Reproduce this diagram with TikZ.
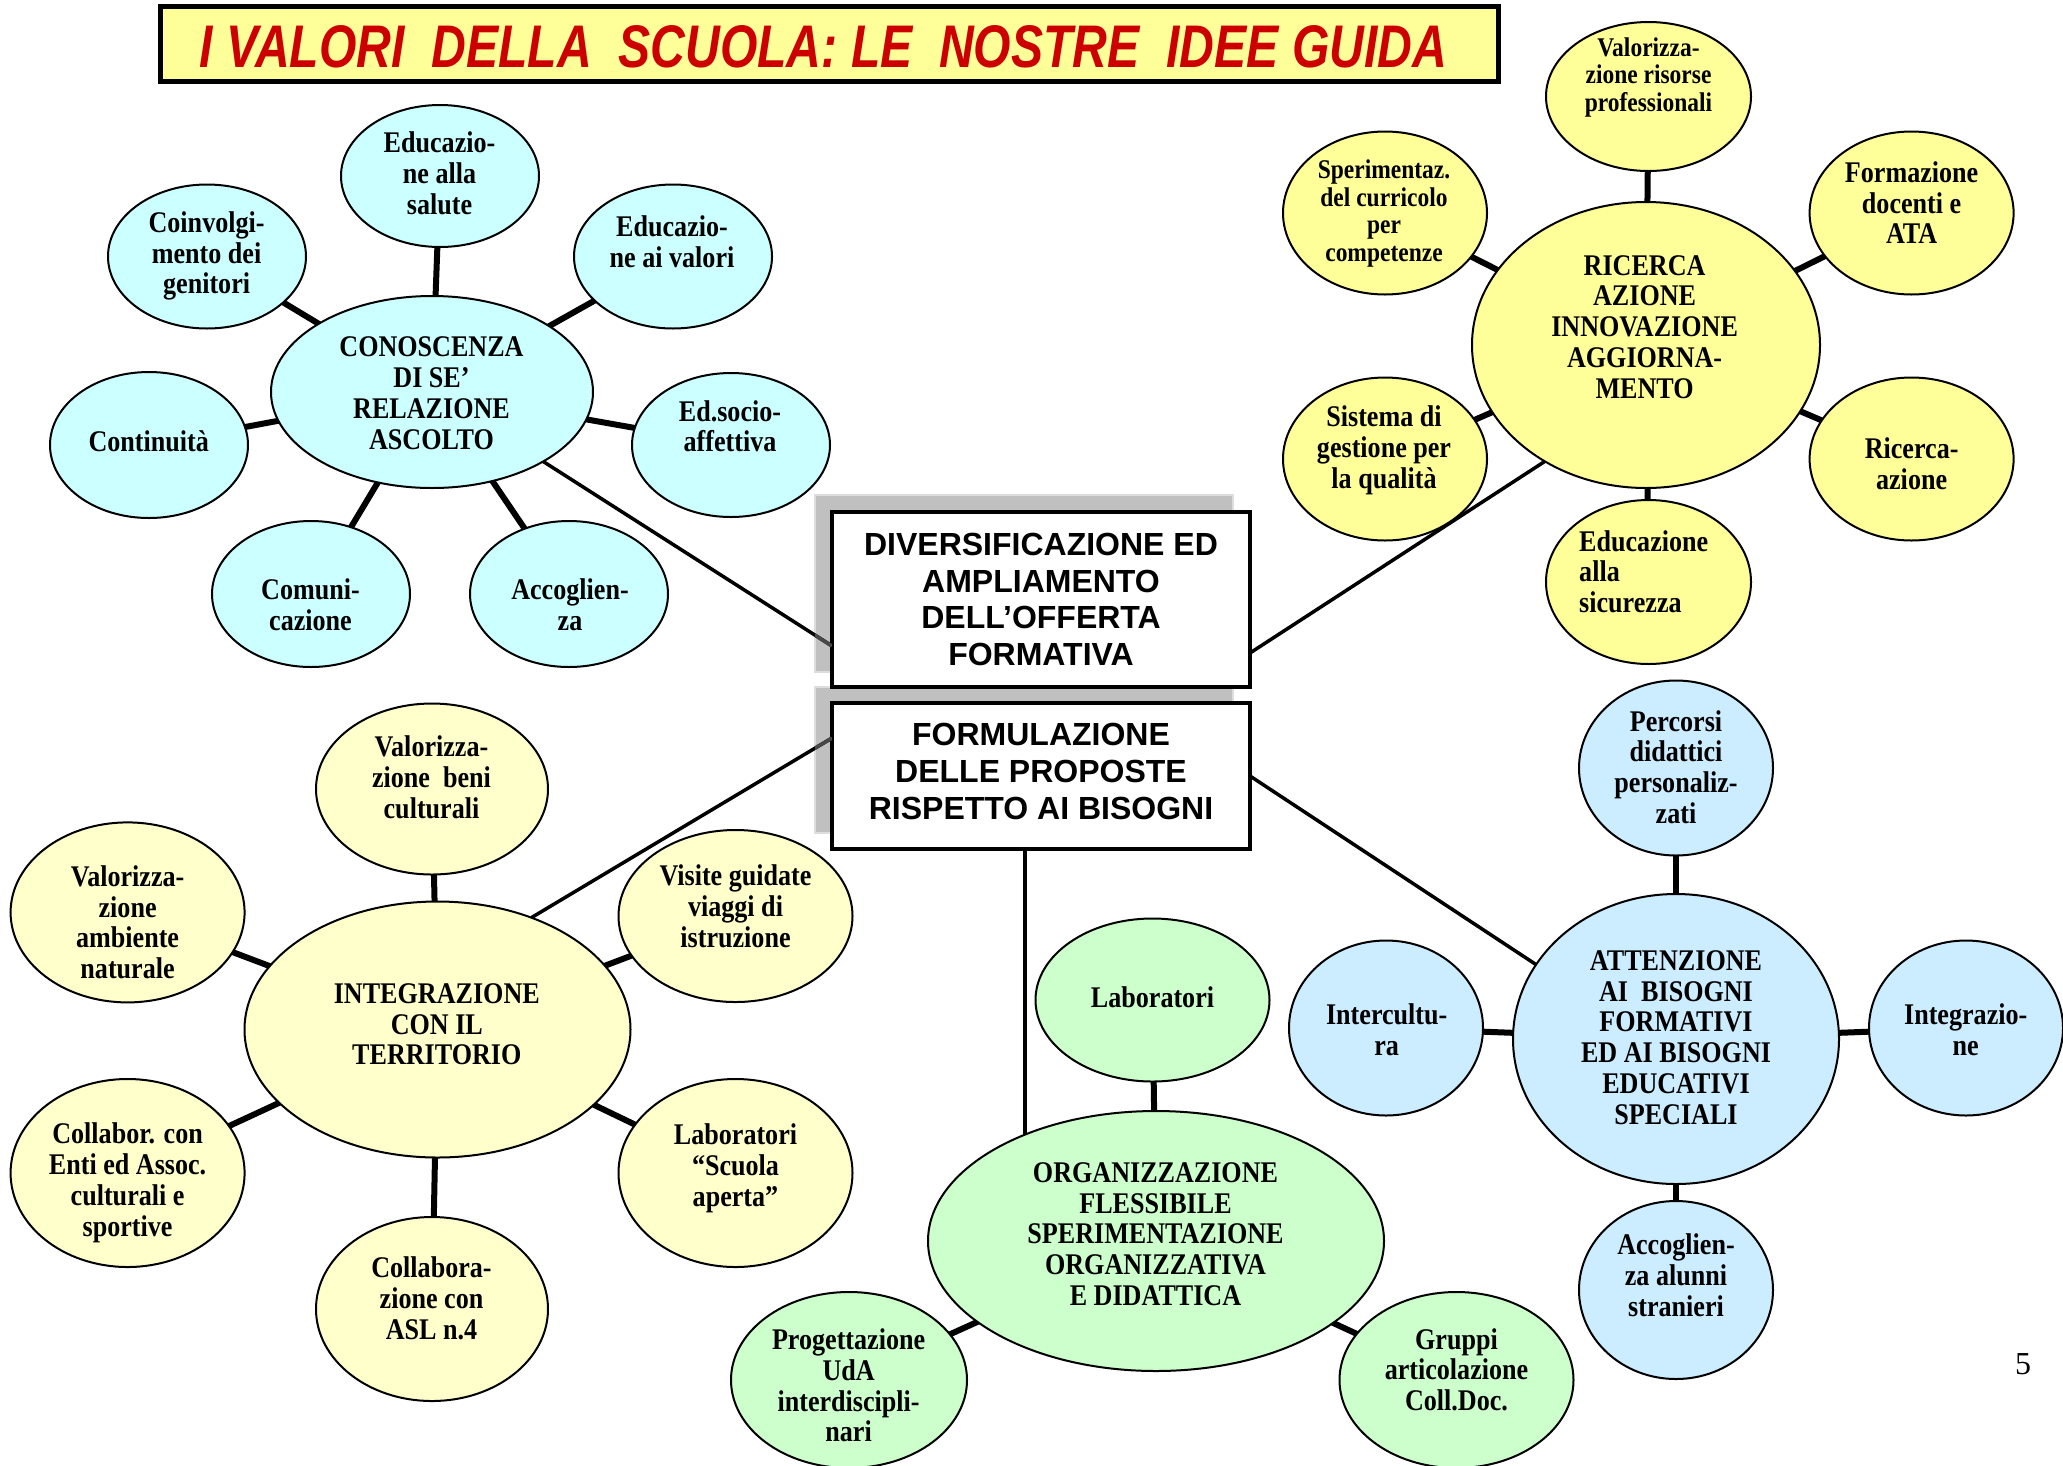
\documentclass[tikz,border=0pt]{standalone}
\usepackage{fontspec}
\usepackage{graphicx}
\setmainfont{Liberation Serif}
\newfontfamily\tnr[FakeStretch=0.87]{Liberation Serif}
\newfontfamily\arialf{Liberation Sans}
\usetikzlibrary{shapes.geometric}
\definecolor{cyanf}{HTML}{CCFFFF}
\definecolor{yelR}{HTML}{FFFF99}
\definecolor{yelL}{HTML}{FFFFCC}
\definecolor{bluef}{HTML}{CCECFF}
\definecolor{greenf}{HTML}{CCFFCC}
\definecolor{titleyel}{HTML}{FFFF99}
\definecolor{titlered}{HTML}{CC0000}
\definecolor{shadowg}{HTML}{C0C0C0}
\definecolor{shadowb}{HTML}{DDDDDD}
\pgfdeclarelayer{bg}
\pgfsetlayers{bg,main}
\tikzset{
  ell/.style={ellipse, draw=black, line width=2pt, inner sep=0pt, outer sep=0pt},
  txt/.style={font=\tnr\bfseries\fontsize{30}{30.8}\selectfont, align=center, inner sep=0pt},
  txts/.style={font=\tnr\bfseries\fontsize{27}{27.6}\selectfont, align=center, inner sep=0pt},
  spoke/.style={line width=6pt},
  conn/.style={line width=3.5pt},
  mainbox/.style={draw=black, line width=4pt, fill=white, inner sep=0pt, outer sep=0pt, minimum width=418pt},
  boxtxt/.style={align=center, inner sep=0pt, font=\arialf\bfseries\fontsize{32}{36.8}\selectfont},
  shadowbox/.style={draw=shadowb, line width=1.5pt, fill=shadowg, inner sep=0pt, outer sep=0pt, minimum width=418pt}
}
\begin{document}
\begin{tikzpicture}[x=1pt,y=-1pt]
\useasboundingbox (0,0) rectangle (2063,1465);

% title
\node[draw=black, line width=5.5pt, fill=titleyel, minimum width=1338pt, minimum height=75pt, inner sep=0pt, outer sep=0pt] (titlebox) at (829.5,44) {};
\node[inner sep=0pt, text=titlered] (title) at (823.5,47) {\resizebox{1247pt}{42pt}{\arialf\bfseries\itshape I VALORI\ \ DELLA\ \ SCUOLA: LE\ \ NOSTRE\ \ IDEE GUIDA}};

% ---- top-left cluster
\node[ell, fill=cyanf, minimum width=322pt, minimum height=192pt] (cono) at (432,392) {};
\node[ell, fill=cyanf, minimum width=198pt, minimum height=142pt] (edsal) at (440,176) {};
\node[ell, fill=cyanf, minimum width=198pt, minimum height=144pt] (coinv) at (207,256.5) {};
\node[ell, fill=cyanf, minimum width=198pt, minimum height=144pt] (edval) at (673,256.5) {};
\node[ell, fill=cyanf, minimum width=198pt, minimum height=146pt] (conti) at (149,445) {};
\node[ell, fill=cyanf, minimum width=198pt, minimum height=144pt] (socio) at (731,445) {};
\node[ell, fill=cyanf, minimum width=198pt, minimum height=146pt] (comun) at (311,594) {};
\node[ell, fill=cyanf, minimum width=198pt, minimum height=146pt] (accog) at (569,594) {};
\node[txt] (conoT) at (431.5,393.4) {CONOSCENZA\\DI SE’\\RELAZIONE\\ASCOLTO};
\node[txt] (edsalT) at (439.5,173) {Educazio-\\ne alla\\salute};
\node[txt] (coinvT) at (206.6,256) {Coinvolgi-\\mento dei\\genitori};
\node[txt] (edvalT) at (672,241.4) {Educazio-\\ne ai valori};
\node[txt] (contiT) at (148.7,440.8) {Continuità};
\node[txt] (socioT) at (730,426.3) {Ed.socio-\\affettiva};
\node[txt] (comunT) at (310.5,605) {Comuni-\\cazione};
\node[txt] (accogT) at (570,605) {Accoglien-\\za};

% ---- top-right cluster
\node[ell, fill=yelR, minimum width=348pt, minimum height=286pt] (ric) at (1646,345) {};
\node[ell, fill=yelR, minimum width=205pt, minimum height=149pt] (valris) at (1648.5,96.5) {};
\node[ell, fill=yelR, minimum width=204pt, minimum height=163pt] (speri) at (1385,213) {};
\node[ell, fill=yelR, minimum width=204pt, minimum height=163pt] (form) at (1911.6,213) {};
\node[ell, fill=yelR, minimum width=204pt, minimum height=163pt] (sist) at (1385,459) {};
\node[ell, fill=yelR, minimum width=204pt, minimum height=163pt] (ricaz) at (1911.6,459) {};
\node[ell, fill=yelR, minimum width=205pt, minimum height=164pt] (edsic) at (1648.5,582) {};
\node[txt] (ricT) at (1644.6,327) {RICERCA\\AZIONE\\INNOVAZIONE\\AGGIORNA-\\MENTO};
\node[txts] (valrisT) at (1648.5,77.5) {Valorizza-\\zione risorse\\professionali};
\node[txts] (speriT) at (1384,213.5) {Sperimentaz.\\del curricolo\\per\\competenze};
\node[txt] (formT) at (1911.6,202.6) {Formazione\\docenti e\\ATA};
\node[txt] (sistT) at (1384,450) {Sistema di\\gestione per\\la qualità};
\node[txt] (ricazT) at (1911.6,463.8) {Ricerca-\\azione};
\node[txt, align=left, anchor=west] (edsicT) at (1579,571.7) {Educazione\\alla\\sicurezza};

% ---- bottom-left cluster
\node[ell, fill=yelL, minimum width=386pt, minimum height=256pt] (integ) at (437.5,1029.5) {};
\node[ell, fill=yelL, minimum width=232pt, minimum height=171pt] (valbeni) at (432,789) {};
\node[ell, fill=yelL, minimum width=234pt, minimum height=180pt] (valamb) at (127.6,912.4) {};
\node[ell, fill=yelL, minimum width=234pt, minimum height=172pt] (visite) at (735.5,916) {};
\node[ell, fill=yelL, minimum width=234pt, minimum height=188pt] (collab) at (127.6,1173) {};
\node[ell, fill=yelL, minimum width=234pt, minimum height=188pt] (labsc) at (735.5,1173) {};
\node[ell, fill=yelL, minimum width=232pt, minimum height=184pt] (asl) at (432,1309) {};
\node[txt] (integT) at (436.8,1024.3) {INTEGRAZIONE\\CON IL\\TERRITORIO};
\node[txt] (valbeniT) at (431.5,777) {Valorizza-\\zione\ \ beni\\culturali};
\node[txt] (valambT) at (127.6,922.3) {Valorizza-\\zione\\ambiente\\naturale};
\node[txt] (visiteT) at (735.5,906.5) {Visite guidate\\viaggi di\\istruzione};
\node[txt] (collabT) at (127.6,1182.8) {Collabor. con\\Enti ed Assoc.\\culturali e\\sportive};
\node[txt] (labscT) at (735.5,1168.5) {Laboratori\\“Scuola\\aperta”};
\node[txt] (aslT) at (431.5,1298) {Collabora-\\zione con\\ASL n.4};

% ---- bottom-center cluster
\node[ell, fill=greenf, minimum width=456pt, minimum height=260pt] (org) at (1156,1241) {};
\node[ell, fill=greenf, minimum width=234pt, minimum height=163pt] (lab) at (1152.5,1000) {};
\node[ell, fill=greenf, minimum width=236pt, minimum height=176pt] (prog) at (849,1380) {};
\node[ell, fill=greenf, minimum width=234pt, minimum height=176pt] (gruppi) at (1456.5,1380) {};
\node[txt] (orgT) at (1155.5,1234) {ORGANIZZAZIONE\\FLESSIBILE\\SPERIMENTAZIONE\\ORGANIZZATIVA\\E DIDATTICA};
\node[txt] (labT) at (1152.5,997.3) {Laboratori};
\node[txt] (progT) at (848.6,1385.4) {Progettazione\\UdA\\interdiscipli-\\nari};
\node[txt] (gruppiT) at (1456.5,1369.6) {Gruppi\\articolazione\\Coll.Doc.};

% ---- bottom-right cluster
\node[ell, fill=bluef, minimum width=326pt, minimum height=290pt] (attn) at (1676,1039) {};
\node[ell, fill=bluef, minimum width=194pt, minimum height=175pt] (perc) at (1676,768) {};
\node[ell, fill=bluef, minimum width=194pt, minimum height=175pt] (inter) at (1386,1028) {};
\node[ell, fill=bluef, minimum width=194pt, minimum height=175pt] (integr) at (1966,1028) {};
\node[ell, fill=bluef, minimum width=194pt, minimum height=178pt] (accal) at (1676,1290) {};
\node[txt] (attnT) at (1676,1037.4) {ATTENZIONE\\AI\ \ BISOGNI\\FORMATIVI\\ED AI BISOGNI\\EDUCATIVI\\SPECIALI};
\node[txt] (percT) at (1676,767) {Percorsi\\didattici\\personaliz-\\zati};
\node[txt] (interT) at (1386.7,1030) {Intercultu-\\ra};
\node[txt] (integrT) at (1965.7,1030) {Integrazio-\\ne};
\node[txt] (accalT) at (1676,1275) {Accoglien-\\za alunni\\stranieri};

% ---- shadows of the central boxes
\node[shadowbox, minimum height=177pt] (sh1) at (1024,583.5) {};
\node[shadowbox, minimum height=146pt] (sh2) at (1024,760) {};

% ---- central boxes
\node[mainbox, minimum height=175pt] (box1) at (1041,599.5) {};
\node[mainbox, minimum height=146pt] (box2) at (1041,776) {};
\node[boxtxt] (box1T) at (1041,599.5) {DIVERSIFICAZIONE ED\\AMPLIAMENTO\\DELL’OFFERTA\\FORMATIVA};
\node[boxtxt] (box2T) at (1041,771.5) {FORMULAZIONE\\DELLE PROPOSTE\\RISPETTO AI BISOGNI};

% spokes and hidden connector (behind)
\begin{pgfonlayer}{bg}
\foreach \c in {edsal,coinv,edval,conti,socio,comun,accog} \draw[spoke] (cono.center) -- (\c.center);
\foreach \c in {valris,speri,form,sist,ricaz,edsic} \draw[spoke] (ric.center) -- (\c.center);
\foreach \c in {valbeni,valamb,visite,collab,labsc,asl} \draw[spoke] (integ.center) -- (\c.center);
\foreach \c in {lab,prog,gruppi} \draw[spoke] (org.center) -- (\c.center);
\foreach \c in {perc,inter,integr,accal} \draw[spoke] (attn.center) -- (\c.center);
\draw[conn] ([xshift=-16pt]box2.south) -- ([xshift=-16pt]box2.south |- org.center);
\end{pgfonlayer}

% connectors from the boxes
\draw[conn] (cono.-32.6) -- ([yshift=-46.5pt]box1.west);
\draw[conn] ([yshift=-53.5pt]box1.east) -- (ric.229.7);
\draw[conn] (integ.50.6) -- ([yshift=38pt]box2.west);
\draw[conn] (box2.east) -- (attn.152.9);
% parts of connectors lying on the shadows look grey
\begin{scope}
\clip (sh1.north west) rectangle (box1.south west);
\draw[conn, black!72] (cono.-32.6) -- ([yshift=-46.5pt]box1.west);
\end{scope}
\begin{scope}
\clip (sh2.north west) rectangle (box2.south west);
\draw[conn, black!72] (integ.50.6) -- ([yshift=38pt]box2.west);
\end{scope}

\node[font=\fontsize{32}{32}\selectfont, inner sep=0pt] (pnum) at (2023,1364) {5};
\end{tikzpicture}
\end{document}
